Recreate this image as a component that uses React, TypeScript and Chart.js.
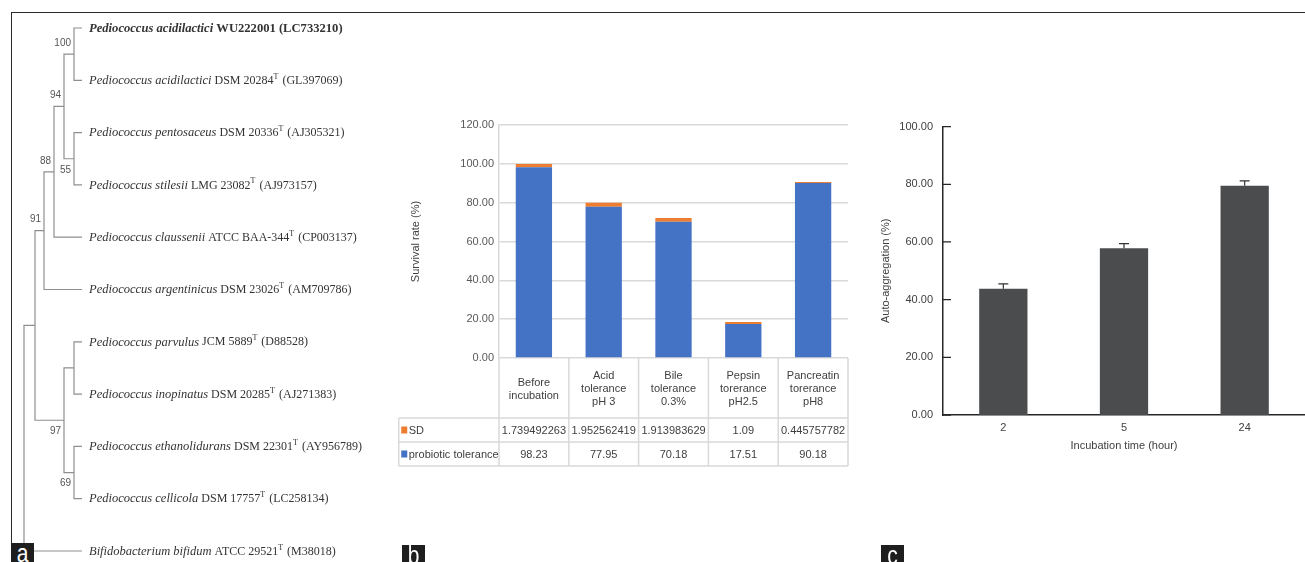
import React, { useEffect, useRef } from 'react';
import { Chart, registerables } from 'chart.js';

Chart.register(...registerables);

const SANS = '"Liberation Sans", Arial, Helvetica, sans-serif';
const SERIF = '"Liberation Serif", "Times New Roman", Times, serif';

// ---------- Panel a: phylogenetic tree ----------
const LEAF_GENUS = [
  'Pediococcus acidilactici',
  'Pediococcus acidilactici',
  'Pediococcus pentosaceus',
  'Pediococcus stilesii',
  'Pediococcus claussenii',
  'Pediococcus argentinicus',
  'Pediococcus parvulus',
  'Pediococcus inopinatus',
  'Pediococcus ethanolidurans',
  'Pediococcus cellicola',
  'Bifidobacterium bifidum',
];
const LEAF_STRAIN = [
  'WU222001',
  'DSM 20284',
  'DSM 20336',
  'LMG 23082',
  'ATCC BAA-344',
  'DSM 23026',
  'JCM 5889',
  'DSM 20285',
  'DSM 22301',
  'DSM 17757',
  'ATCC 29521',
];
const LEAF_TYPE_STRAIN = [false, true, true, true, true, true, true, true, true, true, true];
const LEAF_ACCESSION = [
  'LC733210', 'GL397069', 'AJ305321', 'AJ973157', 'CP003137', 'AM709786',
  'D88528', 'AJ271383', 'AY956789', 'LC258134', 'M38018',
];
const LEAF_HIGHLIGHT = [true, false, false, false, false, false, false, false, false, false, false];
const TIP_DEPTH = 58;
// internal nodes, children before parents
const NODE_IDS = ['n1', 'n2', 'n3', 'n4', 'n5', 'n6', 'n7', 'n8', 'n9', 'root'];
const NODE_CHILDREN = [
  ['L0', 'L1'], ['L2', 'L3'], ['n1', 'n2'], ['n3', 'L4'], ['n4', 'L5'],
  ['L6', 'L7'], ['L8', 'L9'], ['n6', 'n7'], ['n5', 'n8'], ['n9', 'L10'],
];
const NODE_DEPTH = [50, 50, 40, 30, 20, 50, 50, 40, 11, 0];
const NODE_SUPPORT = [100, 55, 94, 88, 91, null, 69, 97, null, null];
const NODE_SUPPORT_SIDE = ['above', 'below', 'above', 'above', 'above', 'above', 'below', 'below', 'above', 'above'];

// ---------- Panel b: probiotic tolerance ----------
const TOLERANCE_CATEGORIES = [
  ['Before', 'incubation'],
  ['Acid', 'tolerance', 'pH 3'],
  ['Bile', 'tolerance', '0.3%'],
  ['Pepsin', 'torerance', 'pH2.5'],
  ['Pancreatin', 'torerance', 'pH8'],
];
const PROBIOTIC_TOLERANCE = [98.23, 77.95, 70.18, 17.51, 90.18];
const TOLERANCE_SD = [1.739492263, 1.952562419, 1.913983629, 1.09, 0.445757782];
const SURVIVAL_MAX = 120;
const SURVIVAL_STEP = 20;

// ---------- Panel c: auto-aggregation ----------
const INCUBATION_HOURS = ['2', '5', '24'];
const AUTO_AGGREGATION = [43.8, 57.8, 79.5];
const AUTO_AGGREGATION_SD = [1.7, 1.6, 1.7];
const AGG_MAX = 100;
const AGG_STEP = 20;

function TreeChart() {
  const ref = useRef<HTMLCanvasElement>(null);
  useEffect(() => {
    const pos: Record<string, { x: number; y: number }> = {};
    LEAF_GENUS.forEach((_, i) => { pos['L' + i] = { x: TIP_DEPTH, y: i }; });
    NODE_IDS.forEach((id, k) => {
      const ys = NODE_CHILDREN[k].map((c) => pos[c].y);
      pos[id] = { x: NODE_DEPTH[k], y: (Math.min(...ys) + Math.max(...ys)) / 2 };
    });
    const datasets = NODE_IDS.map((id, k) => {
      const [a, b] = NODE_CHILDREN[k].map((c) => pos[c]);
      const d = NODE_DEPTH[k];
      return {
        data: [{ x: a.x, y: a.y }, { x: d, y: a.y }, { x: d, y: b.y }, { x: b.x, y: b.y }],
        showLine: true,
        borderColor: '#8f8f8f',
        borderWidth: 1.2,
        pointRadius: 0,
        tension: 0,
        fill: false,
      };
    });
    const labelPlugin = {
      id: 'treeLabels',
      afterDatasetsDraw(chart: any) {
        const ctx = chart.ctx;
        const xs = chart.scales.x;
        const ys = chart.scales.y;
        ctx.save();
        ctx.textBaseline = 'middle';
        ctx.fillStyle = '#333';
        LEAF_GENUS.forEach((g, i) => {
          let cx = xs.getPixelForValue(TIP_DEPTH) + 7;
          const cy = ys.getPixelForValue(i) + 0.5;
          const hi = LEAF_HIGHLIGHT[i];
          const bold = hi ? 'bold ' : '';
          const size = hi ? 12.6 : 12;
          const parts: { t: string; f: string; sup?: boolean }[] = [
            { t: g, f: `italic ${bold}${hi ? 12.6 : 12.5}px ${SERIF}` },
            { t: ' ' + LEAF_STRAIN[i], f: `${bold}${size}px ${SERIF}` },
          ];
          if (LEAF_TYPE_STRAIN[i]) parts.push({ t: 'T', f: `8px ${SERIF}`, sup: true });
          parts.push({ t: ' (' + LEAF_ACCESSION[i] + ')', f: `${bold}${size}px ${SERIF}` });
          parts.forEach((p) => {
            ctx.font = p.f;
            ctx.fillText(p.t, cx, p.sup ? cy - 4 : cy);
            cx += ctx.measureText(p.t).width + (p.sup ? 1 : 0);
          });
        });
        ctx.font = `10px ${SANS}`;
        ctx.fillStyle = '#555';
        ctx.textAlign = 'right';
        NODE_IDS.forEach((id, k) => {
          const s = NODE_SUPPORT[k];
          if (s == null) return;
          const px = xs.getPixelForValue(NODE_DEPTH[k]) - 3;
          const py = ys.getPixelForValue(pos[id].y) + (NODE_SUPPORT_SIDE[k] === 'above' ? -11 : 11);
          ctx.fillText(String(s), px, py);
        });
        ctx.restore();
      },
    };
    const chart = new Chart(ref.current as HTMLCanvasElement, {
      type: 'scatter',
      data: { datasets: datasets as any },
      options: {
        responsive: false,
        animation: false,
        layout: { padding: 0 },
        plugins: { legend: { display: false }, tooltip: { enabled: false } },
        scales: {
          x: { type: 'linear', min: -24, max: 376, display: false },
          y: { type: 'linear', min: -28 / 52.3, max: -28 / 52.3 + 562 / 52.3, reverse: true, display: false },
        },
      },
      plugins: [labelPlugin],
    });
    return () => chart.destroy();
  }, []);
  return <canvas ref={ref} width={400} height={562} style={{ position: 'absolute', left: 0, top: 0 }} />;
}

function ToleranceChart() {
  const ref = useRef<HTMLCanvasElement>(null);
  useEffect(() => {
    const HEADER_H = 60;
    const ROW_H = 24;
    const tablePlugin = {
      id: 'dataTable',
      afterDraw(chart: any) {
        const ctx = chart.ctx;
        const xs = chart.scales.x;
        const { right, bottom } = chart.chartArea;
        const n = TOLERANCE_CATEGORIES.length;
        const cw = (xs.getPixelForValue(1) - xs.getPixelForValue(0));
        const tableLeft = 0.75;
        ctx.save();
        ctx.strokeStyle = '#d9d9d9';
        ctx.lineWidth = 1.5;
        ctx.beginPath();
        for (let i = 0; i <= n; i++) {
          const bx = xs.getPixelForValue(0) - cw / 2 + i * cw;
          ctx.moveTo(bx, bottom);
          ctx.lineTo(bx, bottom + HEADER_H + 2 * ROW_H);
        }
        ctx.moveTo(tableLeft, bottom + HEADER_H);
        ctx.lineTo(tableLeft, bottom + HEADER_H + 2 * ROW_H);
        for (let r = 0; r <= 2; r++) {
          const ry = bottom + HEADER_H + r * ROW_H;
          ctx.moveTo(tableLeft, ry);
          ctx.lineTo(right, ry);
        }
        ctx.stroke();

        ctx.font = `11px ${SANS}`;
        ctx.fillStyle = '#404040';
        ctx.textAlign = 'center';
        ctx.textBaseline = 'middle';
        TOLERANCE_CATEGORIES.forEach((lines, i) => {
          const cx = xs.getPixelForValue(i);
          lines.forEach((t, j) => {
            ctx.fillText(t, cx, bottom + HEADER_H / 2 + (j - (lines.length - 1) / 2) * 13 + 1);
          });
        });
        const rows = [
          { name: 'SD', color: '#ED7D31', values: TOLERANCE_SD },
          { name: 'probiotic tolerance', color: '#4472C4', values: PROBIOTIC_TOLERANCE },
        ];
        rows.forEach((row, r) => {
          const cy = bottom + HEADER_H + r * ROW_H + ROW_H / 2;
          ctx.fillStyle = row.color;
          ctx.fillRect(tableLeft + 2.5, cy - 3.5, 6, 7);
          ctx.fillStyle = '#404040';
          ctx.textAlign = 'left';
          ctx.fillText(row.name, tableLeft + 10, cy + 0.5);
          ctx.textAlign = 'center';
          row.values.forEach((v, i) => {
            ctx.fillText(String(v), xs.getPixelForValue(i), cy + 0.5);
          });
        });
        ctx.restore();
      },
    };
    const chart = new Chart(ref.current as HTMLCanvasElement, {
      type: 'bar',
      data: {
        labels: TOLERANCE_CATEGORIES.map((l) => l.join(' ')),
        datasets: [
          { label: 'probiotic tolerance', data: PROBIOTIC_TOLERANCE, backgroundColor: '#4472C4', stack: 's' },
          { label: 'SD', data: TOLERANCE_SD, backgroundColor: '#ED7D31', stack: 's' },
        ],
      },
      options: {
        responsive: false,
        animation: false,
        layout: { padding: { top: 15, right: 2, bottom: 112, left: 0 } },
        plugins: { legend: { display: false }, tooltip: { enabled: false } },
        datasets: { bar: { categoryPercentage: 1, barPercentage: 0.52 } },
        scales: {
          x: { stacked: true, display: false },
          y: {
            stacked: true,
            min: 0,
            max: SURVIVAL_MAX,
            ticks: {
              stepSize: SURVIVAL_STEP,
              padding: 5,
              color: '#595959',
              font: { family: SANS, size: 11 },
              callback: (v: any) => Number(v).toFixed(2),
            },
            grid: { color: '#d9d9d9', lineWidth: 1.5, drawTicks: false },
            border: { display: true, color: '#d9d9d9', width: 1.5 },
            title: {
              display: true,
              text: 'Survival rate (%)',
              color: '#404040',
              font: { family: SANS, size: 11 },
              padding: { top: 11, bottom: 0 },
            },
            afterFit: (s: any) => { s.width = 101; },
          },
        },
      },
      plugins: [tablePlugin],
    });
    return () => chart.destroy();
  }, []);
  return <canvas ref={ref} width={452} height={360} style={{ position: 'absolute', left: 398, top: 110 }} />;
}

function AggregationChart() {
  const ref = useRef<HTMLCanvasElement>(null);
  useEffect(() => {
    const errPlugin = {
      id: 'errAndTicks',
      afterDatasetsDraw(chart: any) {
        const ctx = chart.ctx;
        const ys = chart.scales.y;
        const meta = chart.getDatasetMeta(0);
        ctx.save();
        ctx.strokeStyle = '#333';
        ctx.lineWidth = 1.2;
        ctx.beginPath();
        meta.data.forEach((bar: any, i: number) => {
          const top = ys.getPixelForValue(AUTO_AGGREGATION[i]);
          const err = ys.getPixelForValue(AUTO_AGGREGATION[i] + AUTO_AGGREGATION_SD[i]);
          ctx.moveTo(bar.x, top);
          ctx.lineTo(bar.x, err);
          ctx.moveTo(bar.x - 5, err);
          ctx.lineTo(bar.x + 5, err);
        });
        ctx.stroke();
        ctx.strokeStyle = '#262626';
        ctx.lineWidth = 1.3;
        ctx.beginPath();
        const left = chart.chartArea.left;
        ys.ticks.forEach((t: any) => {
          const py = ys.getPixelForValue(t.value);
          ctx.moveTo(left, py);
          ctx.lineTo(left + 8, py);
        });
        ctx.stroke();
        ctx.restore();
      },
    };
    const chart = new Chart(ref.current as HTMLCanvasElement, {
      type: 'bar',
      data: {
        labels: INCUBATION_HOURS,
        datasets: [
          {
            label: 'Auto-aggregation',
            data: AUTO_AGGREGATION,
            backgroundColor: '#4b4c4e',
            categoryPercentage: 1,
            barPercentage: 0.4,
          },
        ],
      },
      options: {
        responsive: false,
        animation: false,
        layout: { padding: { top: 16, right: 0, bottom: 0, left: 0 } },
        plugins: { legend: { display: false }, tooltip: { enabled: false } },
        scales: {
          x: {
            grid: { display: false, drawTicks: false },
            border: { display: true, color: '#262626', width: 1.5 },
            ticks: { padding: 6, color: '#404040', font: { family: SANS, size: 11 } },
            title: {
              display: true,
              text: 'Incubation time (hour)',
              color: '#404040',
              font: { family: SANS, size: 11 },
              padding: { top: 0, bottom: 7 },
            },
            afterFit: (s: any) => { s.height = 45; },
          },
          y: {
            min: 0,
            max: AGG_MAX,
            ticks: {
              stepSize: AGG_STEP,
              padding: 10,
              color: '#404040',
              font: { family: SANS, size: 11 },
              callback: (v: any) => Number(v).toFixed(2),
            },
            grid: { display: false, drawTicks: false },
            border: { display: true, color: '#262626', width: 1.5 },
            title: {
              display: true,
              text: 'Auto-aggregation (%)',
              color: '#404040',
              font: { family: SANS, size: 11 },
              padding: { top: 9, bottom: 0 },
            },
            afterFit: (s: any) => { s.width = 73; },
          },
        },
      },
      plugins: [errPlugin],
    });
    return () => chart.destroy();
  }, []);
  return <canvas ref={ref} width={435} height={350} style={{ position: 'absolute', left: 870, top: 110 }} />;
}

function PanelTag({ letter, left, top }: { letter: string; left: number; top: number }) {
  return (
    <div
      style={{
        position: 'absolute',
        left,
        top,
        width: 23,
        height: 562 - top,
        background: '#1e1e1e',
        color: '#fff',
        fontFamily: SANS,
        fontSize: 21,
        lineHeight: '20px',
        textAlign: 'center',
        overflow: 'hidden',
      }}
    >
      <span style={{ display: 'inline-block', transform: 'scale(1, 1.2)', transformOrigin: '50% 30%' }}>{letter}</span>
    </div>
  );
}

export default function App() {
  return (
    <div
      style={{
        position: 'fixed',
        left: 0,
        top: 0,
        width: 1305,
        height: 562,
        background: '#fff',
        overflow: 'hidden',
      }}
    >
      <div
        style={{
          position: 'absolute',
          left: 11,
          top: 12,
          width: 1300,
          height: 560,
          borderTop: '1px solid #2a2a2a',
          borderLeft: '1px solid #2a2a2a',
        }}
      />
      <TreeChart />
      <ToleranceChart />
      <AggregationChart />
      <PanelTag letter="a" left={11} top={543} />
      <PanelTag letter="b" left={402} top={545} />
      <PanelTag letter="c" left={881} top={545} />
    </div>
  );
}
